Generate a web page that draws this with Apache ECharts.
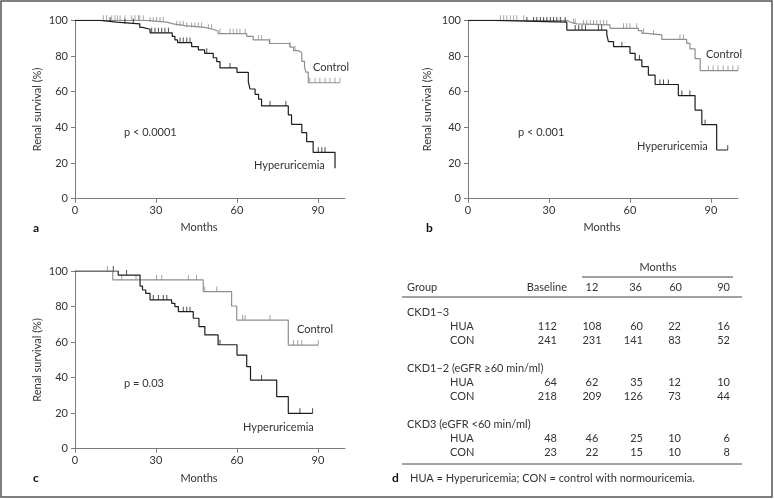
<!DOCTYPE html>
<html><head><meta charset="utf-8">
<script src="https://cdn.jsdelivr.net/npm/echarts@6/dist/echarts.min.js"></script>
<style>html,body{margin:0;padding:0;background:#fff}#c{width:774px;height:499px}</style>
</head><body><div id="c"></div>
<script>
// ---------- data ----------
const xTickValues = [0, 30, 60, 90];
const yTickValues = [0, 20, 40, 60, 80, 100];

// Panel a (CKD1-3)
const hyperA = [[0,100],[9.3,99],[15.4,98],[24,96],[25,95],[27.8,93],[36,91],[37,89],[38,87.5],[43.2,85.2],[45.7,83.4],[48,81.5],[51.2,79],[52.5,76.8],[53.7,73.3],[60,70.8],[64.2,65.5],[64.8,61.5],[66.7,58.5],[68,55.8],[69.1,52],[79,47],[80.2,41.7],[84,37],[85.8,32],[88.2,26],[96.3,17]];
const hyperACens = [13,18.5,21.6,28.4,29.6,30.9,32.1,33.3,34.6,38.9,40.1,41.4,42.6,48.8,57.4,72.2,78.1,90.1,91.4,92.6];
const controlA = [[0,100],[26.5,99],[34,98],[36.4,97],[40.7,96],[48,95],[51,94],[53,92.5],[63.6,91],[66,89],[72,87],[79.6,85],[81,83],[82.7,82],[84,77],[85,74],[85.5,71],[86.4,65],[98.1,65]];
const controlACens = [10.5,11.7,13.6,14.8,15.7,16.7,18.5,21,22.2,23.5,24,25.3,27.8,29,30.2,31.5,32.7,37.7,38.9,40.1,41.4,43.2,44.4,45.7,46.9,49.4,50.6,53.7,57.4,58.6,59.9,61.1,63,67.9,69.1,72.2,79.6,81.5,87,88.9,90.7,92.6,94.4,96.3,98.1];

// Panel b (CKD1-2)
const hyperB = [[0,100],[9.9,99],[36.6,94.5],[51.4,92],[52,88],[53.9,85.2],[60,81.5],[61.9,77.8],[64.4,74],[66.8,69.3],[69.3,64],[77.9,57.8],[84.1,49.7],[86.6,41.5],[92.1,27.3],[96.2,27.3]];
const hyperBCens = [21.8,24.3,25.5,26.8,28,29.2,30.5,31.7,32.9,34.2,36,39.7,41,42.2,43.5,48.3,49.5,57,63.5,71.1,72.4,74.2,79.2,82.2,87.8,96.2];
const controlB = [[0,100],[36.6,99],[37.9,98],[40.3,97.4],[52.6,95.5],[63.1,94.2],[64.4,92.7],[66.2,91.8],[71.8,89.3],[81,87.1],[82.2,84],[84.1,78.5],[86,71.8],[100,71.8]];
const controlBCens = [12,13.2,14.4,15.7,16.9,18.1,20.6,39.1,39.7,42.8,44,45.3,46.5,47.7,49,50.2,51.4,57.6,58.8,60,62.5,65,68.7,78.5,79.8,89,90.8,92.6,94.5,96.3,98.1,100];

// Panel c (CKD3)
const hyperC = [[0,100],[16,97.7],[24.1,91.5],[25,89.3],[26.2,87.4],[27.8,83.7],[35.8,81.8],[37,80],[38.3,77.1],[43.8,73.4],[45.9,68.7],[48.1,64],[53,58.5],[60,52.7],[63.6,46.2],[65,38.6],[74.7,29.3],[79,19.9],[88,19.9]];
const hyperCCens = [14.2,19.1,29,30.9,32.7,34,40.1,41.4,42.6,53.7,69.1,83.3,88];
const controlC = [[0,100],[14,95],[47.5,88.4],[58,80.3],[59.9,72.4],[79,58.3],[90.1,58.3]];
const controlCCens = [12,17.3,22.6,30.2,32.1,42,45,48.1,52.5,62.1,63,72.2,80.9,82.5,84,90.1];

const pLabels = ['p < 0.0001', 'p < 0.001', 'p = 0.03'];
const panelLetters = ['a', 'b', 'c', 'd'];

// Table d
const tableHeader = ['Group', 'Baseline', '12', '36', '60', '90'];
const tableGroups = ['CKD1–3', 'CKD1–2 (eGFR ≥60 min/ml)', 'CKD3 (eGFR <60 min/ml)'];
const tableHUA = [[112,108,60,22,16],[64,62,35,12,10],[48,46,25,10,6]];
const tableCON = [[241,231,141,83,52],[218,209,126,73,44],[23,22,15,10,8]];
const footnote = 'HUA = Hyperuricemia; CON = control with normouricemia.';

// ---------- rendering ----------
const FONT = 'Lato, "Liberation Sans", sans-serif';
const TXT = '#333';
const AX = '#7a7a7a';
const DARK = '#1e1e1e';
const GRAY = '#8f8f8f';

function stepAt(curve, t) {
  let v = curve[0][1];
  for (const p of curve) { if (p[0] <= t + 1e-9) v = p[1]; }
  return v;
}

const grids = [
  {left: 75, top: 20.3, width: 270, height: 178.4},
  {left: 468, top: 20.3, width: 270, height: 178.4},
  {left: 75, top: 271, width: 270, height: 177.7}
];
const panels = [
  [hyperA, hyperACens, controlA, controlACens],
  [hyperB, hyperBCens, controlB, controlBCens],
  [hyperC, hyperCCens, controlC, controlCCens]
];

const xAxes = [], yAxes = [], series = [];
grids.forEach((g, i) => {
  xAxes.push({
    type: 'value', gridIndex: i, min: 0, max: 100, interval: 30,
    axisLine: {show: true, onZero: false, lineStyle: {color: AX, width: 1}},
    axisTick: {show: true, length: 4, lineStyle: {color: AX}, customValues: xTickValues},
    axisLabel: {color: TXT, fontFamily: FONT, fontSize: 11, margin: 6, customValues: xTickValues},
    splitLine: {show: false}
  });
  yAxes.push({
    type: 'value', gridIndex: i, min: 0, max: 100, interval: 20,
    axisLine: {show: true, onZero: false, lineStyle: {color: AX, width: 1}},
    axisTick: {show: true, length: 4, lineStyle: {color: AX}},
    axisLabel: {color: TXT, fontFamily: FONT, fontSize: 11, margin: 7},
    splitLine: {show: false}
  });
  const [h, hc, c, cc] = panels[i];
  series.push({type: 'line', xAxisIndex: i, yAxisIndex: i, data: c, step: 'end', symbol: 'none',
    lineStyle: {color: GRAY, width: 1.2}, silent: true, z: 2});
  series.push({type: 'line', xAxisIndex: i, yAxisIndex: i, data: h, step: 'end', symbol: 'none',
    lineStyle: {color: DARK, width: 1.2}, silent: true, z: 3});
  series.push({type: 'scatter', xAxisIndex: i, yAxisIndex: i, clip: false,
    data: cc.map(t => [t, stepAt(c, t)]), symbol: 'rect', symbolSize: [1, 5], symbolOffset: [0, -2.5],
    itemStyle: {color: GRAY}, silent: true, z: 2});
  series.push({type: 'scatter', xAxisIndex: i, yAxisIndex: i, clip: false,
    data: hc.map(t => [t, stepAt(h, t)]), symbol: 'rect', symbolSize: [1, 5], symbolOffset: [0, -2.5],
    itemStyle: {color: DARK}, silent: true, z: 3});
});

function txt(x, y, text, opt) {
  opt = opt || {};
  return {type: 'text', x: x, y: y, rotation: opt.rot || 0, silent: true, z: 10,
    style: {text: text, fill: opt.fill || TXT,
      font: (opt.bold ? 'bold ' : '') + (opt.size || 11) + 'px ' + FONT,
      textAlign: opt.align || 'left', textVerticalAlign: 'middle',
      align: opt.align || 'left', verticalAlign: 'middle'}};
}
function hline(x1, x2, y) {
  return {type: 'line', silent: true, z: 10, shape: {x1: x1, y1: y, x2: x2, y2: y},
    style: {stroke: '#444', lineWidth: 1}};
}

const graphic = [];
// frame
graphic.push({type: 'rect', silent: true, z: 0, shape: {x: 1, y: 1, width: 771, height: 496},
  style: {fill: 'none', stroke: '#555', lineWidth: 1.5}});
// axis titles, annotations
const months = [[199, 227], [602, 227], [199, 478]];
const yTitles = [[37, 109.5], [427, 109.5], [37, 360]];
const letters = [[33, 228], [426, 228], [33, 478], [392, 478]];
const ctrlPos = [[313, 67], [706, 54], [297, 329]];
const hypPos = [[254, 165], [637, 146], [243, 427]];
const pPos = [[124, 132], [518, 132], [124, 383]];
for (let i = 0; i < 3; i++) {
  graphic.push(txt(months[i][0], months[i][1], 'Months', {align: 'center'}));
  graphic.push(txt(yTitles[i][0], yTitles[i][1], 'Renal survival (%)', {align: 'center', rot: Math.PI / 2}));
  graphic.push(txt(ctrlPos[i][0], ctrlPos[i][1], 'Control'));
  graphic.push(txt(hypPos[i][0], hypPos[i][1], 'Hyperuricemia'));
  graphic.push(txt(pPos[i][0], pPos[i][1], pLabels[i]));
}
letters.forEach((p, i) => graphic.push(txt(p[0], p[1], panelLetters[i], {bold: true, size: 12, fill: '#111'})));

// table
const colX = [[407, 'left'], [567, 'right'], [592, 'center'], [642, 'right'], [682, 'right'], [730, 'right']];
const numX = [[557, 'right'], [592, 'center'], [643, 'right'], [681, 'right'], [730, 'right']];
graphic.push(txt(658, 267, 'Months', {align: 'center'}));
graphic.push(hline(582, 733, 277));
tableHeader.forEach((h, j) => graphic.push(txt(colX[j][0], 287, h, {align: colX[j][1]})));
graphic.push(hline(402, 742, 297));
tableGroups.forEach((g, k) => {
  const y0 = 312 + k * 56;
  graphic.push(txt(407, y0, g));
  graphic.push(txt(450, y0 + 14.2, 'HUA'));
  graphic.push(txt(450, y0 + 28.4, 'CON'));
  tableHUA[k].forEach((v, j) => graphic.push(txt(numX[j][0], y0 + 14.2, String(v), {align: numX[j][1]})));
  tableCON[k].forEach((v, j) => graphic.push(txt(numX[j][0], y0 + 28.4, String(v), {align: numX[j][1]})));
});
graphic.push(hline(402, 742, 464));
graphic.push(txt(410, 478, footnote));

const chart = echarts.init(document.getElementById('c'), null, {renderer: 'canvas'});
chart.setOption({
  animation: false,
  backgroundColor: '#fff',
  grid: grids,
  xAxis: xAxes,
  yAxis: yAxes,
  series: series,
  graphic: graphic
});
</script>
</body></html>
